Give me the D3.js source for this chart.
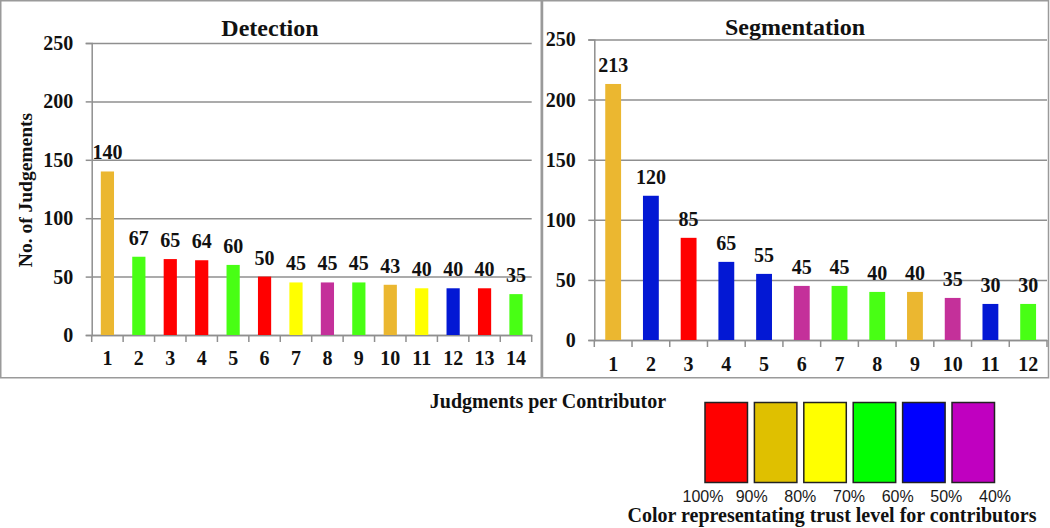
<!DOCTYPE html>
<html>
<head>
<meta charset="utf-8">
<script src="https://cdn.jsdelivr.net/npm/d3@7"></script>
<style>
  body { margin: 0; background: #fff; }
  svg { display: block; }
  text { font-family: "Liberation Serif", "Times New Roman", serif; font-weight: bold; fill: #111; }
  .pct { font-family: "Liberation Sans", Arial, sans-serif; font-weight: normal; fill: #1a1a1a; }
</style>
</head>
<body>
<svg id="chart" width="1050" height="528"></svg>
<script>
// data
var detCats = ["1","2","3","4","5","6","7","8","9","10","11","12","13","14"];
var detValues = [140, 67, 65, 64, 60, 50, 45, 45, 45, 43, 40, 40, 40, 35];
var detTrust = ["gold","green","red","red","green","red","yellow","purple","green","gold","yellow","blue","red","green"];

var segCats = ["1","2","3","4","5","6","7","8","9","10","11","12"];
var segValues = [213, 120, 85, 65, 55, 45, 45, 40, 40, 35, 30, 30];
var segTrust = ["gold","blue","red","blue","blue","purple","green","green","gold","purple","blue","green"];

var yTicks = [0, 50, 100, 150, 200, 250];
var legendKeys = ["red","gold","yellow","green","blue","purple"];
var pctLabels = ["100%","90%","80%","70%","60%","50%","40%"];

// bar colours (as printed in the panels) and legend swatch colours
var barColor = { red: "#ff0000", gold: "#ebb730", yellow: "#ffff00", green: "#48ff14", blue: "#0318d4", purple: "#c4309a" };
var legColor = { red: "#ff0000", gold: "#dfc000", yellow: "#ffff00", green: "#00ff00", blue: "#0000ff", purple: "#c000c0" };

var grid = "#8f8f8f";
var svg = d3.select("#chart");

// panel frames
svg.append("rect").attr("x", 0.75).attr("y", 0.75).attr("width", 540.5).attr("height", 377)
    .attr("fill", "none").attr("stroke", "#9a9a9a").attr("stroke-width", 1.5);
svg.append("rect").attr("x", 542.5).attr("y", 0.75).attr("width", 506).attr("height", 377)
    .attr("fill", "none").attr("stroke", "#9a9a9a").attr("stroke-width", 1.5);

function panel(opts) {
    var x = d3.scaleBand().domain(opts.cats).range([opts.left, opts.right]).paddingInner(0.58).paddingOuter(0.29);
    var y = d3.scaleLinear().domain([0, 250]).range([opts.bottom, opts.top]);
    var g = svg.append("g");

    // y axis + gridlines
    var ya = g.append("g")
        .attr("transform", "translate(" + opts.left + ",0)")
        .call(d3.axisLeft(y).tickValues(yTicks).tickSize(6).tickPadding(12.5));
    ya.select(".domain").attr("stroke", grid).attr("stroke-width", 1.5);
    ya.selectAll(".tick line").attr("stroke", grid).attr("stroke-width", 1.5);
    ya.selectAll(".tick").append("line")
        .attr("x1", 0).attr("x2", opts.right - opts.left)
        .attr("stroke", grid).attr("stroke-width", 1.5);
    ya.selectAll(".tick text")
        .style("font-family", "'Liberation Serif', serif").style("font-weight", "bold")
        .style("font-size", "20px").attr("fill", "#111");

    // x axis: labels at centre, ticks at band boundaries
    var xa = g.append("g")
        .attr("transform", "translate(0," + opts.bottom + ")")
        .call(d3.axisBottom(x).tickSize(0).tickPadding(opts.labPad));
    xa.select(".domain").attr("stroke", grid).attr("stroke-width", 1.5);
    xa.selectAll(".tick text")
        .style("font-family", "'Liberation Serif', serif").style("font-weight", "bold")
        .style("font-size", "20px").attr("fill", "#111");
    xa.selectAll(".bnd")
        .data(d3.range(opts.cats.length + 1))
        .enter().append("line")
        .attr("class", "bnd")
        .attr("x1", function(i) { return opts.left + i * x.step(); })
        .attr("x2", function(i) { return opts.left + i * x.step(); })
        .attr("y1", 0).attr("y2", 7)
        .attr("stroke", grid).attr("stroke-width", 1.5);

    // bars
    g.selectAll(".bar")
        .data(opts.values)
        .enter().append("rect")
        .attr("class", "bar")
        .attr("x", function(d, i) { return x(opts.cats[i]); })
        .attr("width", x.bandwidth())
        .attr("y", function(d) { return y(d); })
        .attr("height", function(d) { return y(0) - y(d); })
        .attr("fill", function(d, i) { return barColor[opts.trust[i]]; });

    // value labels
    g.selectAll(".val")
        .data(opts.values)
        .enter().append("text")
        .attr("class", "val")
        .attr("x", function(d, i) { return x(opts.cats[i]) + x.bandwidth() / 2; })
        .attr("y", function(d) { return y(d) - 12; })
        .attr("text-anchor", "middle")
        .style("font-size", "20px")
        .text(function(d) { return d; });

    // title
    g.append("text")
        .attr("x", opts.titleX).attr("y", opts.titleY)
        .attr("text-anchor", "middle")
        .style("font-size", "24px")
        .text(opts.title);
}

panel({ cats: detCats, values: detValues, trust: detTrust, left: 91.7, right: 531.7, top: 43, bottom: 335,
        labPad: 15.8, title: "Detection", titleX: 270, titleY: 36 });
panel({ cats: segCats, values: segValues, trust: segTrust, left: 594.3, right: 1047, top: 39.5, bottom: 340,
        labPad: 16.8, title: "Segmentation", titleX: 795, titleY: 35 });

// y axis title (left panel)
svg.append("text")
    .attr("transform", "translate(32,190) rotate(-90)")
    .attr("text-anchor", "middle")
    .style("font-size", "19.5px")
    .text("No. of Judgements");

// x axis title
svg.append("text")
    .attr("x", 548).attr("y", 408)
    .attr("text-anchor", "middle")
    .style("font-size", "20px")
    .text("Judgments per Contributor");

// legend
var lx = d3.scaleBand().domain(legendKeys).range([705, 994.5]).paddingInner(0.14);
svg.selectAll(".leg")
    .data(legendKeys)
    .enter().append("rect")
    .attr("class", "leg")
    .attr("x", function(d) { return lx(d); })
    .attr("y", 402.5)
    .attr("width", lx.bandwidth())
    .attr("height", 80)
    .attr("fill", function(d) { return legColor[d]; })
    .attr("stroke", "#222").attr("stroke-width", 1.5);

var px = d3.scalePoint().domain(pctLabels).range([703, 995]);
svg.selectAll(".pct")
    .data(pctLabels)
    .enter().append("text")
    .attr("class", "pct")
    .attr("x", function(d) { return px(d); })
    .attr("y", 502)
    .attr("text-anchor", "middle")
    .style("font-size", "16px")
    .text(function(d) { return d; });

svg.append("text")
    .attr("x", 832).attr("y", 522)
    .attr("text-anchor", "middle")
    .style("font-size", "20px")
    .text("Color representating trust level for contributors");
</script>
</body>
</html>
